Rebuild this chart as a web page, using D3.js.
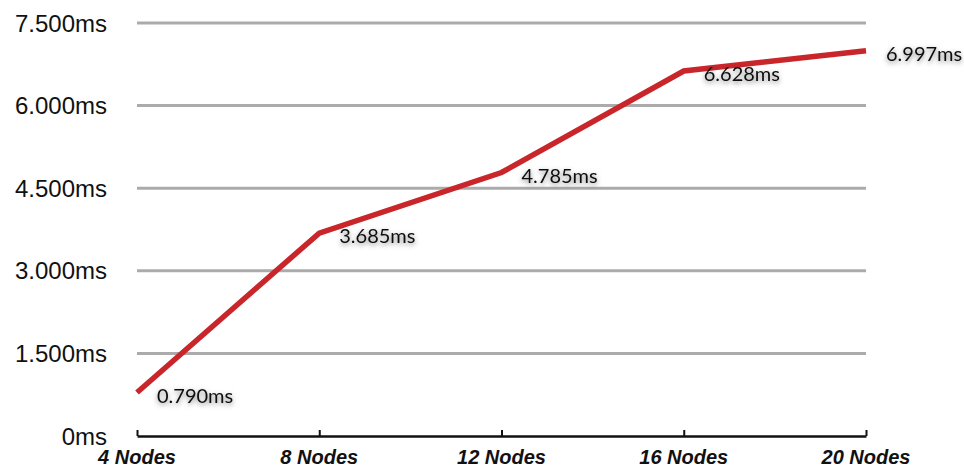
<!DOCTYPE html>
<html>
<head>
<meta charset="utf-8">
<script src="https://cdn.jsdelivr.net/npm/d3@7"></script>
<style>
  body { margin: 0; background: #fff; }
  svg { display: block; }
  .ylab { font-family: "Liberation Sans", Arial, sans-serif; font-size: 24px; fill: #111; }
  .xlab { font-family: "Liberation Sans", Arial, sans-serif; font-size: 20px; font-weight: bold; font-style: italic; fill: #111; }
  .val { font-family: Lato, "Open Sans", sans-serif; font-size: 20px; fill: #111; }
</style>
</head>
<body>
<div id="chart"></div>
<script>
// chart data
var categories = ["4 Nodes", "8 Nodes", "12 Nodes", "16 Nodes", "20 Nodes"];
var timings = [0.790, 3.685, 4.785, 6.628, 6.997];
var yTicks = [0, 1.5, 3.0, 4.5, 6.0, 7.5];

var width = 964, height = 468;

var svg = d3.select("#chart").append("svg")
  .attr("width", width)
  .attr("height", height);

var defs = svg.append("defs");
var f = defs.append("filter").attr("id", "shadow")
  .attr("x", "-20%").attr("y", "-40%").attr("width", "140%").attr("height", "200%");
f.append("feDropShadow")
  .attr("dx", 0).attr("dy", 2)
  .attr("stdDeviation", 2.5)
  .attr("flood-color", "#000")
  .attr("flood-opacity", 0.5);

var x = d3.scalePoint()
  .domain(categories)
  .range([137, 866]);

var y = d3.scaleLinear()
  .domain([0, 7.5])
  .range([436, 23]);

var fmt = function(d) { return d === 0 ? "0ms" : d3.format(".3f")(d) + "ms"; };

// gridlines
svg.append("g").selectAll("line")
  .data(yTicks.filter(function(d) { return d > 0; }))
  .enter().append("line")
  .attr("x1", x.range()[0])
  .attr("x2", x.range()[1])
  .attr("y1", function(d) { return y(d); })
  .attr("y2", function(d) { return y(d); })
  .attr("stroke", "#ababab")
  .attr("stroke-width", 3);

// y labels
svg.append("g").selectAll("text")
  .data(yTicks)
  .enter().append("text")
  .attr("class", "ylab")
  .attr("x", 107)
  .attr("y", function(d) { return y(d); })
  .attr("dy", "0.36em")
  .attr("text-anchor", "end")
  .text(fmt);

// x axis
var xAxis = svg.append("g")
  .attr("transform", "translate(0," + y(0) + ")")
  .call(d3.axisTop(x).tickSize(6).tickSizeOuter(0).tickFormat(""));
xAxis.select(".domain").attr("stroke", "#111").attr("stroke-width", 2.5);
xAxis.selectAll(".tick line").attr("stroke", "#111").attr("stroke-width", 2);

svg.append("g").selectAll("text")
  .data(categories)
  .enter().append("text")
  .attr("class", "xlab")
  .attr("x", function(d) { return x(d); })
  .attr("y", 464)
  .attr("text-anchor", "middle")
  .text(function(d) { return d; });

// line
var line = d3.line()
  .x(function(d, i) { return x(categories[i]); })
  .y(function(d) { return y(d); });

svg.append("path")
  .datum(timings)
  .attr("d", line)
  .attr("fill", "none")
  .attr("stroke", "#c8262b")
  .attr("stroke-width", 5.5)
  .attr("stroke-linejoin", "miter");

// value labels
svg.append("g").selectAll("text")
  .data(timings)
  .enter().append("text")
  .attr("class", "val")
  .attr("filter", "url(#shadow)")
  .attr("x", function(d, i) { return x(categories[i]) + 20; })
  .attr("y", function(d) { return y(d) + 3; })
  .attr("dy", "0.36em")
  .text(fmt);
</script>
</body>
</html>
